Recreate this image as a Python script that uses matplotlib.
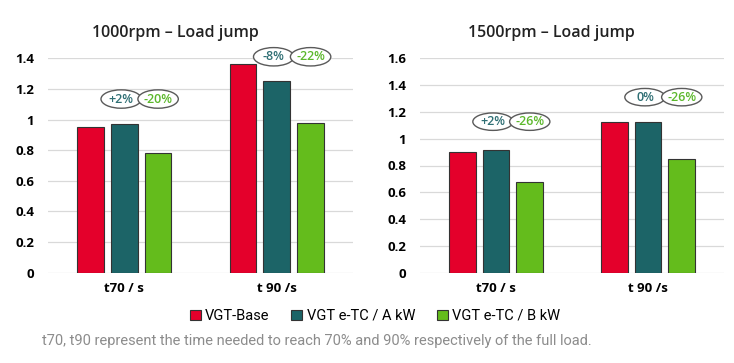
import matplotlib
matplotlib.use('Agg')
import matplotlib.pyplot as plt
from matplotlib.patches import Ellipse, Patch
import numpy as np

# ── Dados ────────────────────────────────────────────────────────────────────
categories = ['t70 / s', 't 90 /s']
series_names = ['VGT-Base', 'VGT e-TC / A kW', 'VGT e-TC / B kW']

titles = ['1000rpm – Load jump', '1500rpm – Load jump']
ymax = [1.4, 1.6]

# valores (s)
base_1000 = [0.95, 1.36]
etc_a_1000 = [0.97, 1.25]
etc_b_1000 = [0.78, 0.98]

base_1500 = [0.90, 1.127]
etc_a_1500 = [0.915, 1.127]
etc_b_1500 = [0.675, 0.846]

# rotulos de variacao (A kW, B kW) por grupo
delta_a_1000 = ['+2%', '-8%']
delta_b_1000 = ['-20%', '-22%']
delta_a_1500 = ['+2%', '0%']
delta_b_1500 = ['-26%', '-26%']

# altura das elipses (unidades do eixo y)
label_y_1000 = [1.134, 1.41]
label_y_1500 = [1.127, 1.31]

footnote = 't70, t90 represent the time needed to reach 70% and 90% respectively of the full load.'

RED = '#e4002b'
TEAL = '#1c6467'
GREEN = '#64bc1c'
TEAL_TXT = '#2f6f74'
GREEN_TXT = '#5cb82c'

plt.rcParams.update({'font.family': 'Open Sans'})

fig = plt.figure(figsize=(7.34, 3.63), dpi=100)
ax_l = fig.add_axes([48/734, 1 - 272.7/363, 305/734, (272.7 - 58.3)/363])
ax_r = fig.add_axes([420/734, 1 - 272.7/363, 304/734, (272.7 - 58.3)/363])

panels = [
    (ax_l, [base_1000, etc_a_1000, etc_b_1000], delta_a_1000, delta_b_1000, label_y_1000, 0),
    (ax_r, [base_1500, etc_a_1500, etc_b_1500], delta_a_1500, delta_b_1500, label_y_1500, 1),
]

x = np.arange(len(categories))
w = 0.175
step = 0.222
colors = [RED, TEAL, GREEN]

for ax, vals, da, db, ly, k in panels:
    for i, (v, c) in enumerate(zip(vals, colors)):
        ax.bar(x + (i - 1) * step, v, w, color=c, edgecolor='#333333',
               linewidth=0.8, zorder=3)
    ax.set_xlim(-0.5, 1.5)
    ax.set_ylim(0, ymax[k])
    ticks = np.arange(0, ymax[k] + 0.01, 0.2).round(1)
    ax.set_yticks(ticks)
    ax.set_yticklabels([f'{v:g}' for v in ticks], fontweight='bold', fontsize=9.5)
    ax.set_xticks(x)
    ax.set_xticklabels(categories, fontweight='bold', fontsize=9.5)
    ax.tick_params(length=0, axis='y', pad=10)
    ax.tick_params(length=0, axis='x', pad=7)
    ax.grid(True, axis='y', color='#d9d9d9', linewidth=0.9, zorder=0)
    for s in ax.spines.values():
        s.set_visible(False)

    ew = 0.265
    eh = 0.12 if k == 0 else 0.13
    for g in range(len(categories)):
        xa = x[g] - 0.02
        xb = x[g] + step
        for xx, txt, tc in [(xa, da[g], TEAL_TXT), (xb, db[g], GREEN_TXT)]:
            e = Ellipse((xx, ly[g]), ew, eh, facecolor='white', edgecolor='#5a5a5a',
                        linewidth=1.0, zorder=5, clip_on=False)
            ax.add_patch(e)
            ax.text(xx, ly[g], txt, ha='center', va='center', color=tc,
                    fontsize=9, fontweight='semibold', zorder=6, clip_on=False)

fig.text(175/734, 1 - 33/363, titles[0], ha='center', va='center',
         fontsize=11.5, fontweight='semibold', color='#222222')
fig.text(551/734, 1 - 33/363, titles[1], ha='center', va='center',
         fontsize=11.5, fontweight='semibold', color='#222222')

handles = [Patch(facecolor=c, edgecolor='#333333', linewidth=0.8, label=n)
           for c, n in zip(colors, series_names)]
fig.legend(handles=handles, loc='center', bbox_to_anchor=(375/734, 1 - 316/363),
           ncol=3, frameon=False, handlelength=0.75, handleheight=0.75,
           handletextpad=0.3, columnspacing=1.5,
           prop={'family': 'Roboto', 'size': 10.5})

fig.text(42/734, 1 - 341/363, footnote, ha='left', va='center', color='#8c8c8c',
         fontsize=10.5, family='Roboto')

plt.savefig('out.png', dpi=100)
